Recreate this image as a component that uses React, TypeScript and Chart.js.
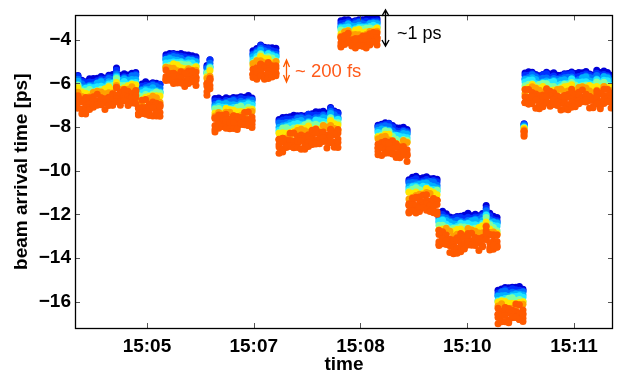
import React, { useEffect, useRef } from "react";
import { Chart, registerables } from "chart.js";

Chart.register(...registerables);

// ---- axis ----
const X_TICK_POS = [0, 1, 2, 3, 4];
const X_TICK_LABELS = ["15:05", "15:07", "15:08", "15:10", "15:11"];
const Y_TICKS = [-16, -14, -12, -10, -8, -6, -4];
const X_MIN = -0.674;
const X_MAX = 4.365;
const Y_MIN = -17.21;
const Y_MAX = -2.88;

// ---- segments (time span in axis units, top level of blue series per sample, vertical spread) ----
const SEG_START = [-0.646, -0.08, 0.178, 0.562, 0.637, 0.993, 1.237, 1.817, 2.164, 2.454, 2.735, 3.288, 3.532, 3.541];
const SEG_END = [-0.105, 0.122, 0.459, 0.59, 0.984, 1.208, 1.789, 2.155, 2.436, 2.717, 3.279, 3.522, 3.532, 4.347];
const SEG1 = [-5.5, -5.72, -5.75, -5.7, -5.68, -5.62, -5.55, -5.6, -5.48, -5.5, -5.2, -5.5, -5.42, -5.45, -5.38, -5.35];
const SEG2 = [-5.95, -5.9, -5.82, -5.85, -5.78, -5.8, -5.85];
const SEG3 = [-4.55, -4.5, -4.48, -4.52, -4.55, -4.6, -4.58, -4.6, -4.62];
const SEG4 = [-5.0, -4.75];
const SEG5 = [-6.6, -6.55, -6.6, -6.5, -6.55, -6.5, -6.55, -6.48, -6.52, -6.45, -6.5];
const SEG6 = [-4.4, -4.25, -4.1, -4.22, -4.2, -4.28, -4.3];
const SEG7 = [-7.5, -7.45, -7.42, -7.4, -7.35, -7.3, -7.28, -7.3, -7.22, -7.25, -7.18, -7.2, -7.15, -7.2, -6.95, -7.12, -7.15];
const SEG8 = [-3.05, -3.0, -2.95, -3.05, -3.0, -2.95, -3.0, -2.98, -2.95, -2.92, -2.9];
const SEG9 = [-7.75, -7.7, -7.62, -7.65, -7.8, -7.92, -7.95, -7.9, -7.95];
const SEG10 = [-10.25, -10.2, -10.15, -10.22, -10.18, -10.1, -10.2, -10.2, -10.28];
const SEG11 = [-11.8, -11.75, -11.85, -11.95, -12.0, -11.95, -11.9, -11.95, -11.85, -11.9, -11.85, -11.9, -11.8, -11.5, -11.85, -11.95, -12.0];
const SEG12 = [-15.3, -15.25, -15.2, -15.25, -15.2, -15.22, -15.2, -15.25];
const SEG13 = [-7.8];
const SEG14 = [-5.4, -5.35, -5.3, -5.4, -5.45, -5.4, -5.35, -5.45, -5.4, -5.5, -5.45, -5.4, -5.4, -5.3, -5.45, -5.4, -5.35, -5.3, -5.4, -5.45, -5.3, -5.4, -5.3, -5.35, -5.45];
const SEG_TOPS = [SEG1, SEG2, SEG3, SEG4, SEG5, SEG6, SEG7, SEG8, SEG9, SEG10, SEG11, SEG12, SEG13, SEG14];
const SEG_SPREAD = [1.0, 1.07, 0.95, 0.97, 1.0, 0.95, 1.08, 0.86, 1.0, 1.1, 1.1, 1.1, 0.37, 1.08];

// ---- colour series (top to bottom), depth below top level, scatter amount ----
const COLORS = ["#0000d8", "#0030ff", "#0070ff", "#00b0ff", "#20e8ff", "#80ffa0", "#ffe600", "#ffa000", "#ff5a00", "#ff5a00", "#ff5a00", "#ff5a00", "#ff5a00"];
const COLOR_OFFSET = [0.13, 0.23, 0.33, 0.43, 0.53, 0.63, 0.74, 0.86, 0.98, 1.11, 1.24, 1.37, 1.5];
const COLOR_JITTER = [0.2, 0.2, 0.25, 0.3, 0.3, 0.35, 0.4, 0.6, 0.7, 0.6, 0.6, 0.6, 0.7];
const JITTER = [0.05, -0.12, 0.2, -0.03, 0.15, -0.22, 0.08, 0.0, -0.17, 0.24, -0.07, 0.12, -0.2, 0.03, 0.18, -0.1, 0.22, -0.15, 0.06, -0.04, 0.1, -0.24, 0.14, -0.01, 0.19, -0.13, 0.02, 0.09, -0.18];

const FONT = '"Liberation Sans", Arial, Helvetica, sans-serif';

function buildDatasets() {
  return COLORS.map((color, c) => {
    const data: { x: number; y: number }[] = [];
    SEG_TOPS.forEach((tops, s) => {
      const n = tops.length;
      tops.forEach((top, i) => {
        const x = n > 1 ? SEG_START[s] + ((SEG_END[s] - SEG_START[s]) * i) / (n - 1) : SEG_START[s];
        const j = JITTER[(i * 7 + c * 5 + s * 3) % JITTER.length] * COLOR_JITTER[c];
        data.push({ x, y: top - SEG_SPREAD[s] * (COLOR_OFFSET[c] + j) });
      });
    });
    return {
      type: "scatter" as const,
      data,
      order: COLORS.length - c,
      backgroundColor: color,
      borderWidth: 0,
      pointRadius: 3.5,
      pointHoverRadius: 3.5,
    };
  });
}

const framePlugin = {
  id: "frame",
  afterDraw(chart: any) {
    const { ctx, chartArea: a, scales } = chart;
    const xs = scales.x;
    const ys = scales.y;
    ctx.save();
    // inward ticks
    ctx.strokeStyle = "#555";
    ctx.lineWidth = 1;
    ctx.beginPath();
    X_TICK_POS.forEach((v) => {
      const px = Math.round(xs.getPixelForValue(v)) + 0.5;
      ctx.moveTo(px, a.bottom);
      ctx.lineTo(px, a.bottom - 5);
      ctx.moveTo(px, a.top);
      ctx.lineTo(px, a.top + 5);
    });
    Y_TICKS.forEach((v) => {
      const py = Math.round(ys.getPixelForValue(v)) + 0.5;
      ctx.moveTo(a.left, py);
      ctx.lineTo(a.left + 5, py);
      ctx.moveTo(a.right, py);
      ctx.lineTo(a.right - 5, py);
    });
    ctx.stroke();
    // frame
    ctx.strokeStyle = "#000";
    ctx.lineWidth = 1.3;
    ctx.strokeRect(Math.round(a.left) + 0.5, Math.round(a.top) + 0.5, Math.round(a.right - a.left) - 1, Math.round(a.bottom - a.top));

    // axis titles
    ctx.fillStyle = "#000";
    ctx.font = `bold 19px ${FONT}`;
    ctx.textAlign = "center";
    ctx.textBaseline = "middle";
    ctx.fillText("time", (a.left + a.right) / 2, 365);
    ctx.save();
    ctx.translate(22, (a.top + a.bottom) / 2);
    ctx.rotate(-Math.PI / 2);
    ctx.fillText("beam arrival time [ps]", 0, 0);
    ctx.restore();

    // ~1 ps annotation
    const ax = 385.5;
    ctx.strokeStyle = "#000";
    ctx.lineWidth = 1.4;
    ctx.beginPath();
    ctx.moveTo(ax, 10);
    ctx.lineTo(ax, 46);
    ctx.moveTo(ax - 3.5, 16);
    ctx.lineTo(ax, 10);
    ctx.lineTo(ax + 3.5, 16);
    ctx.moveTo(ax - 3.5, 40);
    ctx.lineTo(ax, 46);
    ctx.lineTo(ax + 3.5, 40);
    ctx.stroke();
    ctx.font = `18px ${FONT}`;
    ctx.textAlign = "left";
    ctx.fillStyle = "#000";
    ctx.fillText("~1 ps", 397, 34);

    // ~200 fs annotation
    const bx = 286.5;
    ctx.strokeStyle = "#ff5a00";
    ctx.lineWidth = 1.3;
    ctx.beginPath();
    ctx.moveTo(bx, 60);
    ctx.lineTo(bx, 82);
    ctx.moveTo(bx - 3, 67);
    ctx.lineTo(bx, 60);
    ctx.lineTo(bx + 3, 67);
    ctx.moveTo(bx - 3, 75);
    ctx.lineTo(bx, 82);
    ctx.lineTo(bx + 3, 75);
    ctx.stroke();
    ctx.font = `18.5px ${FONT}`;
    ctx.fillStyle = "#ff5a1a";
    ctx.fillText("~ 200 fs", 295, 72);
    ctx.restore();
  },
};

export default function App() {
  const ref = useRef<HTMLCanvasElement | null>(null);
  useEffect(() => {
    document.body.style.margin = "0";
    const canvas = ref.current!;
    const chart = new Chart(canvas, {
      type: "scatter",
      data: { datasets: buildDatasets() as any },
      options: {
        animation: false,
        responsive: false,
        devicePixelRatio: 1,
        layout: { padding: { top: 8, right: 6, left: 0, bottom: 0 } },
        plugins: { legend: { display: false }, tooltip: { enabled: false } },
        events: [],
        scales: {
          x: {
            type: "linear",
            min: X_MIN,
            max: X_MAX,
            grid: { display: false, drawTicks: false },
            border: { display: false },
            afterBuildTicks: (s: any) => {
              s.ticks = X_TICK_POS.map((v) => ({ value: v }));
            },
            afterFit: (s: any) => {
              s.height = 48;
            },
            ticks: {
              autoSkip: false,
              maxRotation: 0,
              padding: 7,
              color: "#000",
              font: { family: FONT, size: 19, weight: "bold" },
              callback: (v: any) => X_TICK_LABELS[X_TICK_POS.indexOf(Number(v))] ?? "",
            },
          },
          y: {
            type: "linear",
            min: Y_MIN,
            max: Y_MAX,
            grid: { display: false, drawTicks: false },
            border: { display: false },
            afterBuildTicks: (s: any) => {
              s.ticks = Y_TICKS.map((v) => ({ value: v }));
            },
            afterFit: (s: any) => {
              s.width = 75;
            },
            ticks: {
              autoSkip: false,
              padding: 4,
              color: "#000",
              font: { family: FONT, size: 19, weight: "bold" },
              callback: (v: any) => String(v).replace("-", "\u2212"),
            },
          },
        },
      },
      plugins: [framePlugin],
    });
    return () => chart.destroy();
  }, []);
  return (
    <div style={{ width: 619, height: 376 }}>
      <canvas ref={ref} width={619} height={376} style={{ display: "block" }} />
    </div>
  );
}
